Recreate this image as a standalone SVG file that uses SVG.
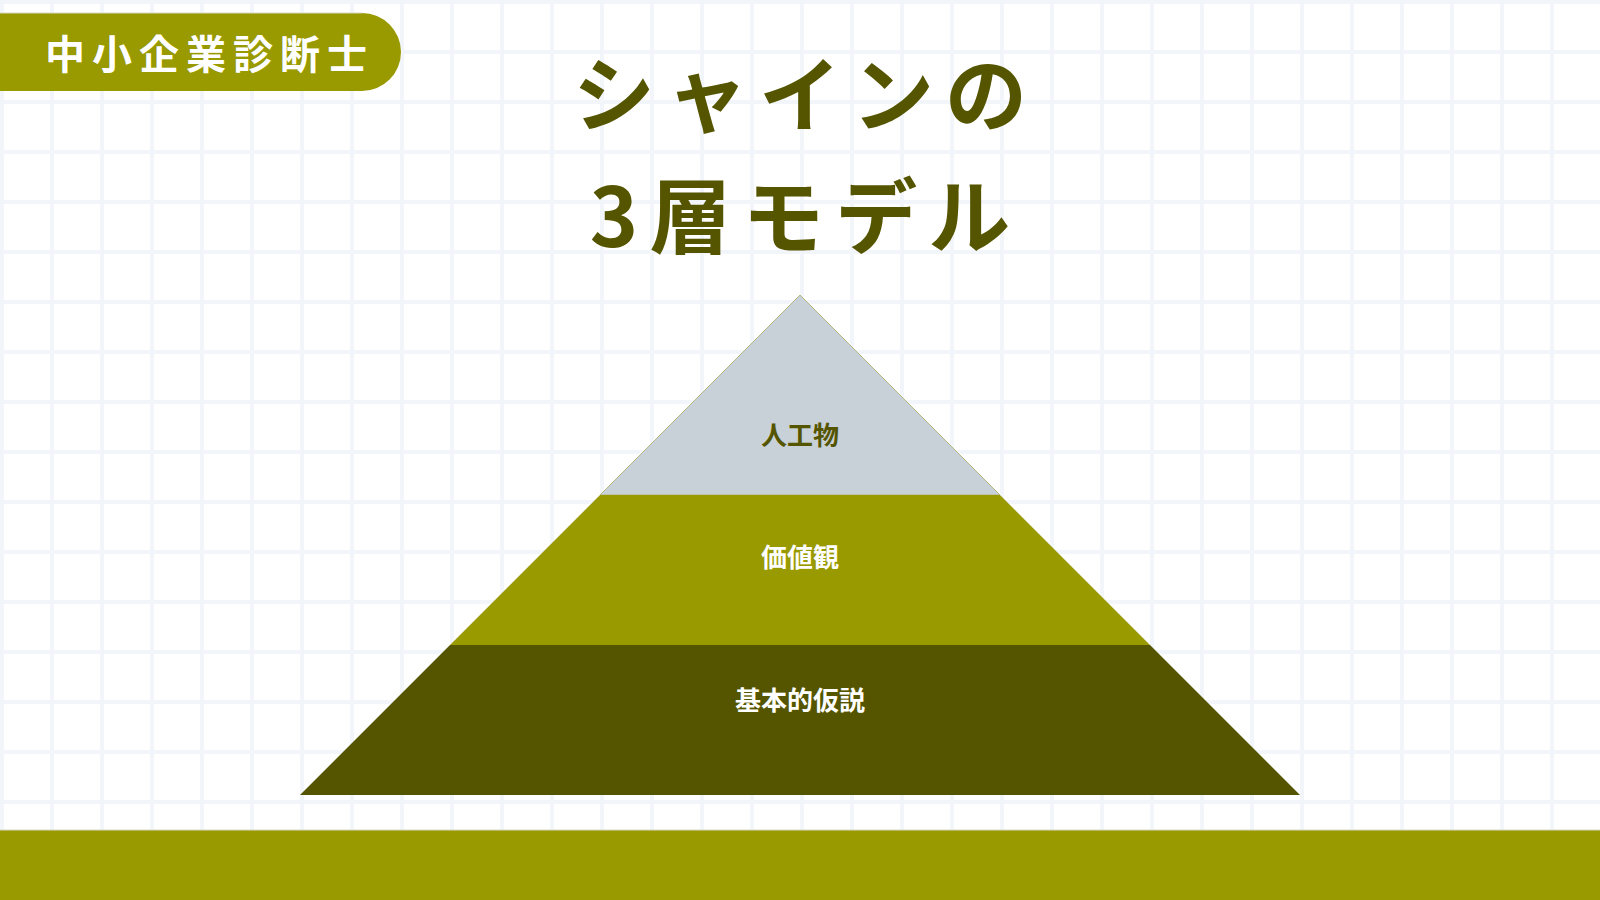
<svg xmlns="http://www.w3.org/2000/svg" width="1600" height="900" viewBox="0 0 1600 900">
  <defs>
    <pattern id="grid" x="0" y="0" width="50" height="50" patternUnits="userSpaceOnUse">
      <rect x="0" y="0" width="50" height="50" fill="#ffffff"/>
      <rect x="0" y="0" width="4" height="50" fill="#f2f5f9"/>
      <rect x="0" y="0" width="50" height="4" fill="#f2f5f9"/>
    </pattern>
    <style>
      .jp { font-family: "Noto Sans CJK JP", "Noto Sans", sans-serif; font-weight: 700; }
      .title { font-size: 82px; fill: #555500; letter-spacing: 11px; }
      .badge { font-size: 40px; fill: #ffffff; letter-spacing: 7px; }
      .lbl { font-size: 26px; text-anchor: middle; }
    </style>
  </defs>

  <rect x="0" y="0" width="1600" height="900" fill="url(#grid)"/>

  <g id="badge">
    <path d="M0 13 H362 A39 39 0 0 1 362 91 H0 Z" fill="#999900"/>
    <line x1="0" y1="13" x2="362" y2="13" stroke="#d8d8c8" stroke-width="1"/>
    <text class="jp badge" x="45" y="69">中小企業診断士</text>
  </g>

  <g id="title">
    <text class="jp title" x="805.5" y="125" text-anchor="middle">シャインの</text>
    <text class="jp title" x="805.5" y="247" text-anchor="middle">3層モデル</text>
  </g>

  <g id="connectors"></g>

  <g id="layer-artifacts">
    <polygon points="800,295 1000,495 600,495" fill="#c8d0d8" stroke="#b4b880" stroke-width="1"/>
    <text class="jp lbl" x="800" y="445" fill="#555500">人工物</text>
  </g>
  <g id="layer-values">
    <polygon points="600,495 1000,495 1150,645 450,645" fill="#999900"/>
    <text class="jp lbl" x="800" y="567" fill="#ffffff">価値観</text>
  </g>
  <g id="layer-assumptions">
    <polygon points="450,645 1150,645 1300,795 300,795" fill="#555500"/>
    <text class="jp lbl" x="800" y="710" fill="#ffffff">基本的仮説</text>
  </g>

  <g id="footer">
    <rect x="0" y="830" width="1600" height="70" fill="#999900"/>
    <line x1="0" y1="830" x2="1600" y2="830" stroke="#d8d8c8" stroke-width="1"/>
  </g>
</svg>
